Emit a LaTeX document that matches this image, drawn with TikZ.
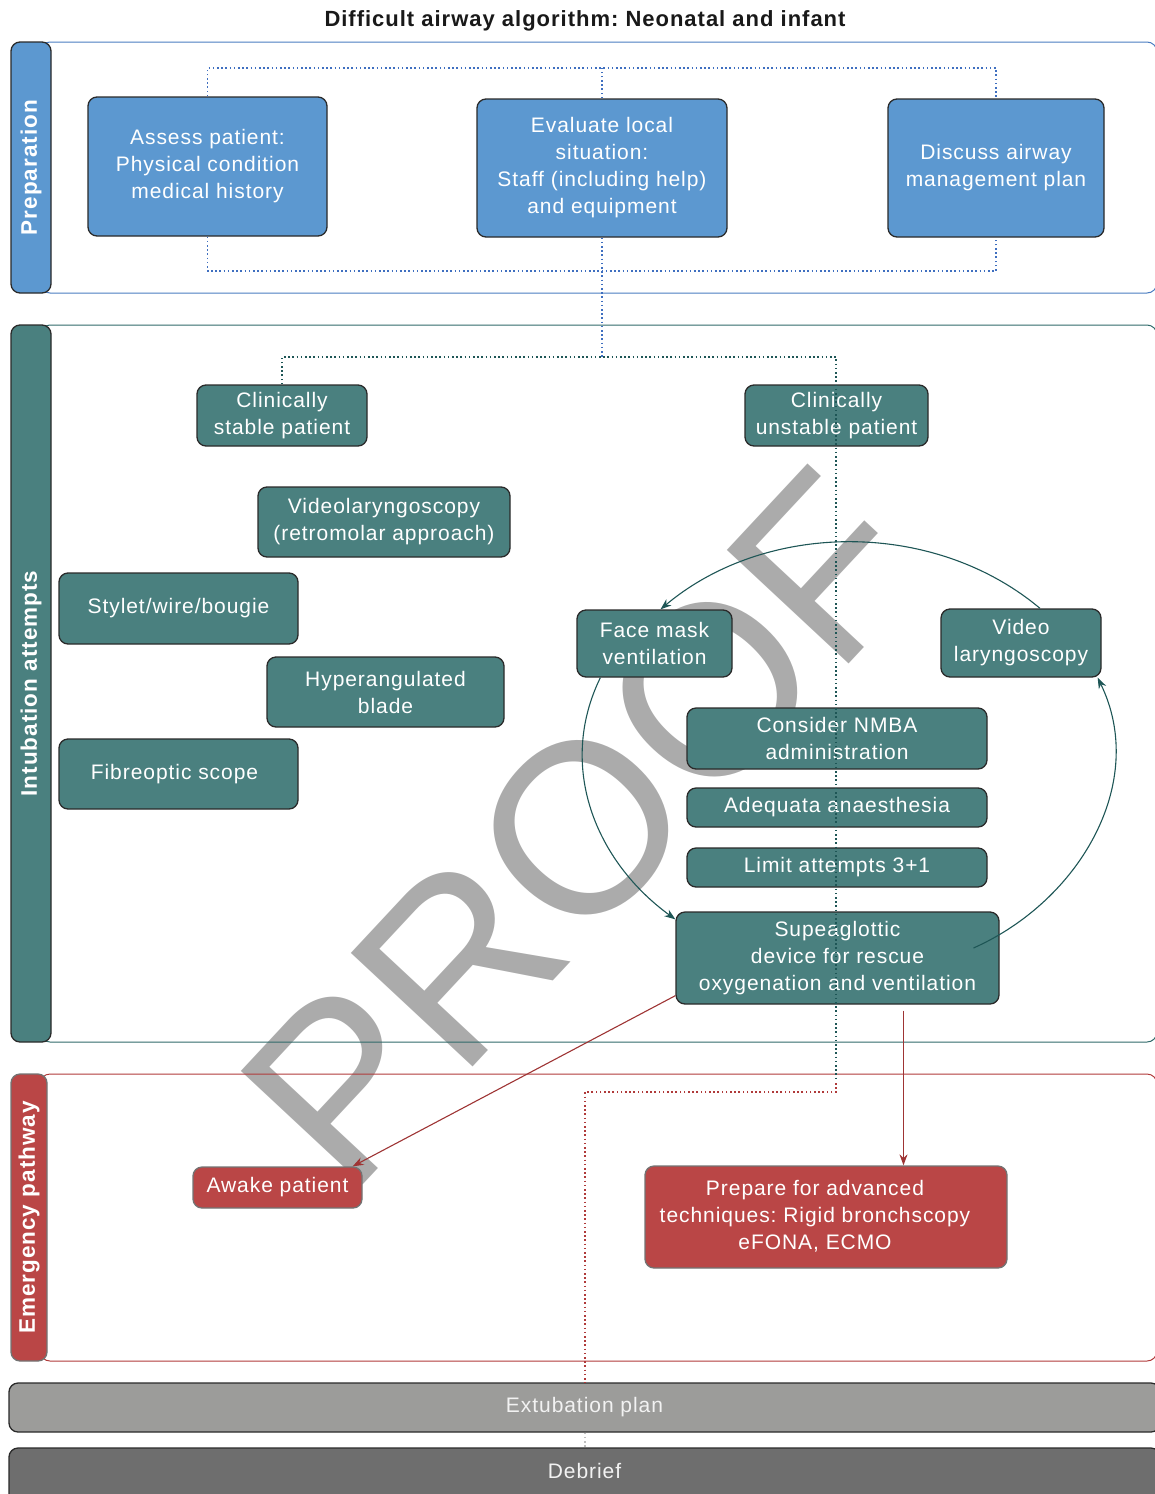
\documentclass[tikz,border=0pt]{standalone}
\usepackage{fontspec}
\setmainfont{Liberation Sans}[LetterSpace=4.5]
\newfontfamily\wmfont{Liberation Sans}
\usetikzlibrary{arrows.meta,calc}
\definecolor{bluef}{HTML}{5C98D0}
\definecolor{tealf}{HTML}{4A807F}
\definecolor{redf}{HTML}{BA4646}
\definecolor{bline}{HTML}{4A7CC0}
\definecolor{bdot}{HTML}{3F6FC0}
\definecolor{tline}{HTML}{2F6A6A}
\definecolor{rline}{HTML}{B03A3A}
\definecolor{arcc}{HTML}{1E5656}
\definecolor{wmc}{HTML}{ABABAB}
\definecolor{gbar}{HTML}{9C9C9A}
\definecolor{dbar}{HTML}{6E6E6E}
\definecolor{edgec}{HTML}{2A2A2A}
\frenchspacing
\begin{document}
\begin{tikzpicture}[x=1pt,y=1pt,
  box/.style={draw=edgec, line width=1.3pt, rounded corners=9pt, text=white, align=center, inner sep=0pt, font=\fontsize{21}{27}\selectfont},
  bbox/.style={box, fill=bluef},
  tbox/.style={box, fill=tealf},
  rbox/.style={box, fill=redf, draw=black!55},
  tab/.style={draw=edgec, line width=1.3pt, rounded corners=9pt, text=white, inner sep=0pt, font=\bfseries\fontsize{22.5}{26}\selectfont},
  panel/.style={line width=1pt, rounded corners=10pt},
  dots/.style={line width=1.6pt, dash pattern=on 1.6pt off 2.6pt},
  cyc/.style={draw=arcc, line width=1.1pt, -{Stealth[length=11pt,width=8pt]}},
  rarr/.style={draw=rline!90!black, line width=1.1pt, -{Stealth[length=11pt,width=8pt]}},
  bar/.style={draw=edgec, line width=1.3pt, rounded corners=9pt, text=white!95!black, inner sep=0pt, font=\fontsize{21}{27}\selectfont, minimum width=1151pt},
]
\useasboundingbox (0,0) rectangle (1155,-1494);

% watermark
\node[text=wmc, font=\wmfont\fontsize{242}{242}\selectfont, rotate=47, inner sep=0pt] (wmk) at (582,-828) {PROOF};

% title
\node[font=\bfseries\fontsize{22}{26}\selectfont, text=black!90] (title) at (585,-21) {Difficult airway algorithm: Neonatal and infant};

% panels
\draw[panel, draw=bline] (40,-42) rectangle (1157,-293);
\draw[panel, draw=tline] (40,-325) rectangle (1157,-1042);
\draw[panel, draw=rline] (40,-1074) rectangle (1157,-1361);

% tabs
\node[tab, fill=bluef, minimum width=251pt, minimum height=40pt, rotate=90] (tprep) at (31,-167.5) {Preparation};
\node[tab, fill=tealf, minimum width=717pt, minimum height=40pt, rotate=90] (tint) at (31,-683.5) {Intubation attempts};
\node[tab, fill=redf, draw=black!55, minimum width=287pt, minimum height=36pt, rotate=90] (temer) at (29,-1217.5) {Emergency pathway};

% preparation boxes
\node[bbox, minimum width=239pt, minimum height=139pt] (assess) at (207.5,-166.5) {Assess patient:\\Physical condition\\medical history};
\node[bbox, minimum width=250pt, minimum height=138pt] (eval) at (602,-168) {Evaluate local\\situation:\\Staff (including help)\\and equipment};
\node[bbox, minimum width=216pt, minimum height=138pt] (discuss) at (996,-168) {Discuss airway\\management plan};

% intubation boxes
\node[tbox, minimum width=170pt, minimum height=61pt] (stable) at (282,-415.5) {Clinically\\stable patient};
\node[tbox, minimum width=183pt, minimum height=61pt] (unstable) at (836.5,-415.5) {Clinically\\unstable patient};
\node[tbox, minimum width=252pt, minimum height=70pt] (video) at (384,-522) {Videolaryngoscopy\\(retromolar approach)};
\node[tbox, minimum width=239pt, minimum height=71pt] (stylet) at (178.5,-608.5) {Stylet/wire/bougie};
\node[tbox, minimum width=237pt, minimum height=70pt] (hyper) at (385.5,-692) {Hyperangulated\\blade};
\node[tbox, minimum width=239pt, minimum height=70pt] (fibre) at (178.5,-774) {Fibreoptic scope\hspace*{8pt}};
\node[tbox, minimum width=155pt, minimum height=67pt] (fm) at (654.5,-643.5) {Face mask\\ventilation};
\node[tbox, minimum width=160pt, minimum height=68pt] (vl) at (1021,-643) {Video\\laryngoscopy};
\node[tbox, minimum width=300pt, minimum height=61pt] (nmba) at (837,-738.5) {Consider NMBA\\administration};
\node[tbox, minimum width=300pt, minimum height=39pt] (adeq) at (837,-807.5) {Adequata anaesthesia};
\node[tbox, minimum width=300pt, minimum height=39pt] (limit) at (837,-867.5) {Limit attempts 3+1};
\node[tbox, minimum width=323pt, minimum height=92pt] (sga) at (837.5,-958) {Supeaglottic\\device for rescue\\oxygenation and ventilation};

% emergency boxes
\node[rbox, minimum width=169pt, minimum height=41pt] (awake) at (277.5,-1187.5) {Awake patient};
\node[fill=redf, draw=black!55, line width=1.3pt, rounded corners=9pt, text=white, inner sep=0pt, font=\fontsize{21}{27}\selectfont, minimum width=362pt, minimum height=102pt] (prep) at (826,-1217) {\begin{tabular}{@{}c@{}}Prepare for advanced\\techniques: Rigid bronchscopy\\eFONA, ECMO\end{tabular}\hspace*{22pt}};

% bottom bars
\node[bar, fill=gbar, minimum height=49pt] (extub) at (584.5,-1407.5) {Extubation plan};
\node[bar, fill=dbar, minimum height=60pt] (debrief) at (584.5,-1478) {\raisebox{14pt}{Debrief}};

% dotted connectors
\coordinate (pt) at (602,-68);
\coordinate (pb) at (602,-271);
\coordinate (j) at (602,-357);
\coordinate (c1) at (836,-1080);
\coordinate (c2) at (836,-1083);
\coordinate (c3) at (585,-1092);
\draw[dots, bdot] (assess.north) |- (pt) -| (discuss.north);
\draw[dots, bdot] (eval.north) -- (pt);
\draw[dots, bdot] (assess.south) |- (pb) -| (discuss.south);
\draw[dots, bdot] (eval.south) -- (pb) -- (j);
\draw[dots, arcc] (stable.north) |- (j) -| (c1);
\draw[dots, rline] (c2) |- (c3) -- (c3 |- extub.north);
\draw[dots, black!25] (c3 |- extub.south) -- (c3 |- debrief.north);

% cycle
\draw[cyc] ([xshift=19pt]vl.north) to[out=140,in=40,looseness=0.93] ([xshift=6pt]fm.north);
\draw[cyc] ([xshift=24pt]fm.south west) to[out=244,in=144] ([yshift=-8pt]sga.north west);
\draw[cyc] ([xshift=136pt,yshift=10pt]sga.center) to[out=24,in=-64] ([xshift=-4pt]vl.south east);

% red arrows
\coordinate (r1) at ([xshift=66pt,yshift=-6pt]sga.south);
\draw[rarr] ([yshift=9pt]sga.south west) -- ([xshift=-10pt]awake.north east);
\draw[rarr] (r1) -- (r1 |- prep.north);
\end{tikzpicture}
\end{document}
